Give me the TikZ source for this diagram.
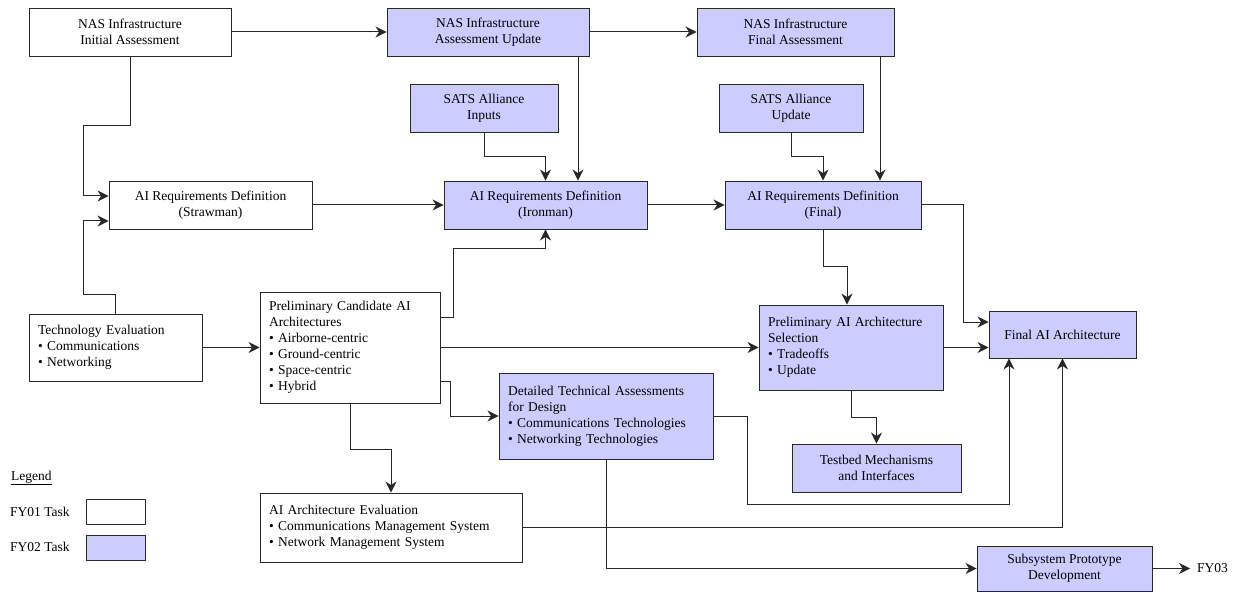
\documentclass[tikz,border=0pt]{standalone}
\usepackage{fontspec}
\setmainfont{Liberation Serif}
\usetikzlibrary{arrows.meta,calc}
\definecolor{lav}{RGB}{204,204,255}
\definecolor{edge}{RGB}{40,40,40}
\newcommand{\dfont}{\fontsize{13.5}{16}\selectfont}
\tikzset{
  box/.style={draw=edge, line width=0.9pt, inner sep=0pt, align=center, font=\dfont},
  fyone/.style={box, fill=white},
  fytwo/.style={box, fill=lav},
  lbox/.style={align=left, inner xsep=9pt, text width=#1},
  arr/.style={-{Stealth[length=11pt,width=11pt,inset=3.5pt]}, line width=1pt, draw=edge},
  lbl/.style={font=\dfont, inner sep=0pt}
}
\begin{document}
\begin{tikzpicture}[x=1pt,y=-1pt]
\useasboundingbox (0,0) rectangle (1238,593);

% top row
\node[fyone, minimum width=202pt, minimum height=48pt] (nasinit) at (130,32) {NAS Infrastructure\\Initial Assessment};
\node[fytwo, minimum width=202pt, minimum height=48pt] (nasupd) at (488,32) {NAS Infrastructure\\Assessment Update};
\node[fytwo, minimum width=197pt, minimum height=48pt] (nasfin) at (795.5,32) {NAS Infrastructure\\Final Assessment};

% SATS
\node[fytwo, minimum width=148pt, minimum height=48pt] (satsin) at (484,108) {SATS Alliance\\Inputs};
\node[fytwo, minimum width=144pt, minimum height=48pt] (satsupd) at (791,108) {SATS Alliance\\Update};

% requirements
\node[fyone, minimum width=203pt, minimum height=48pt] (straw) at (210.5,205) {AI Requirements Definition\\(Strawman)};
\node[fytwo, minimum width=203pt, minimum height=48pt] (iron) at (545.5,205) {AI Requirements Definition\\(Ironman)};
\node[fytwo, minimum width=196pt, minimum height=48pt] (reqfin) at (823,205) {AI Requirements Definition\\(Final)};

% middle
\node[fyone, lbox=155pt, minimum height=67pt] (tech) at (115.5,347.5) {Technology Evaluation\\\textbullet\ Communications\\\textbullet\ Networking};
\node[fyone, lbox=162pt, minimum height=111pt] (cand) at (350,347.5) {Preliminary Candidate AI\\Architectures\\\textbullet\ Airborne-centric\\\textbullet\ Ground-centric\\\textbullet\ Space-centric\\\textbullet\ Hybrid};
\node[fytwo, lbox=166pt, minimum height=85pt] (prelsel) at (851,347.5) {Preliminary AI Architecture\\Selection\\\textbullet\ Tradeoffs\\\textbullet\ Update};
\node[fytwo, minimum width=147pt, minimum height=47pt] (finarch) at (1062.5,334.5) {Final AI Architecture};
\node[fytwo, lbox=196pt, minimum height=86pt] (detail) at (606,416) {Detailed Technical Assessments\\for Design\\\textbullet\ Communications Technologies\\\textbullet\ Networking Technologies};
\node[fytwo, minimum width=169pt, minimum height=48pt] (testbed) at (876.5,468) {Testbed Mechanisms\\and Interfaces};
\node[fyone, lbox=244pt, minimum height=69pt] (eval) at (391,527.5) {AI Architecture Evaluation\\\textbullet\ Communications Management System\\\textbullet\ Network Management System};
\node[fytwo, minimum width=175pt, minimum height=45pt] (subsys) at (1064.5,568.5) {Subsystem Prototype\\Development};
\node[lbl, anchor=west, inner xsep=7pt] (fy03) at (1190,568.5) {FY03};

% legend
\node[lbl, anchor=west] (legend) at (11,478) {\underline{Legend}};
\node[lbl, anchor=west] (leg1t) at (10,512) {FY01 Task};
\node[lbl, anchor=west] (leg2t) at (10,547) {FY02 Task};
\node[fyone, minimum width=59pt, minimum height=25pt] (leg1) at (115.5,511.5) {};
\node[fytwo, minimum width=59pt, minimum height=25pt] (leg2) at (115.5,547.5) {};

% connectors
\draw[arr] (nasinit.east) -- (nasupd.west);
\draw[arr] (nasupd.east) -- (nasfin.west);
\draw[arr] (nasinit.south) |- (83,126) |- ([yshift=9pt]straw.west);
\draw[arr] (tech.north) |- (83,295) |- ([yshift=-16pt]straw.west);
\draw[arr] (straw.east) -- (iron.west);
\draw[arr] (iron.east) -- (reqfin.west);
\draw[arr] (satsin.south) -- ++(0,24) -| (iron.north);
\draw[arr] ([xshift=90pt]nasupd.south) -- ([xshift=90pt]nasupd.south |- iron.north);
\draw[arr] (satsupd.south) -- ++(0,24) -| (reqfin.north);
\draw[arr] ([xshift=84.5pt]nasfin.south) -- ([xshift=84.5pt]nasfin.south |- reqfin.north);
\draw[arr] (reqfin.east) -- ++(42,0) |- ([yshift=12.5pt]finarch.west);
\draw[arr] (reqfin.south) -- ++(0,37) -| ([xshift=-4pt]prelsel.north);
\draw[arr] (prelsel.east) -- (prelsel.east -| finarch.west);
\draw[arr] ([yshift=30.5pt]cand.east) -- ++(13,0) |- ([yshift=-19pt]iron.south) -- (iron.south);
\draw[arr] (tech.east) -- (cand.west);
\draw[arr] (cand.east) -- (prelsel.west);
\draw[arr] ([yshift=-33.5pt]cand.east) -- ++(10,0) |- (detail.west);
\draw[arr] (cand.south) -- ++(0,46) -| (eval.north);
\draw[arr] (detail.east) -- ++(34,0) |- ([xshift=-53.5pt,yshift=-146pt]finarch.south) -- ([xshift=-53.5pt]finarch.south);
\draw[arr] (eval.east) -| (finarch.south);
\draw[arr] (detail.south) |- (subsys.west);
\draw[arr] (prelsel.south) -- ++(0,27) -| (testbed.north);
\draw[arr] (subsys.east) -- (fy03.west);
\end{tikzpicture}
\end{document}
